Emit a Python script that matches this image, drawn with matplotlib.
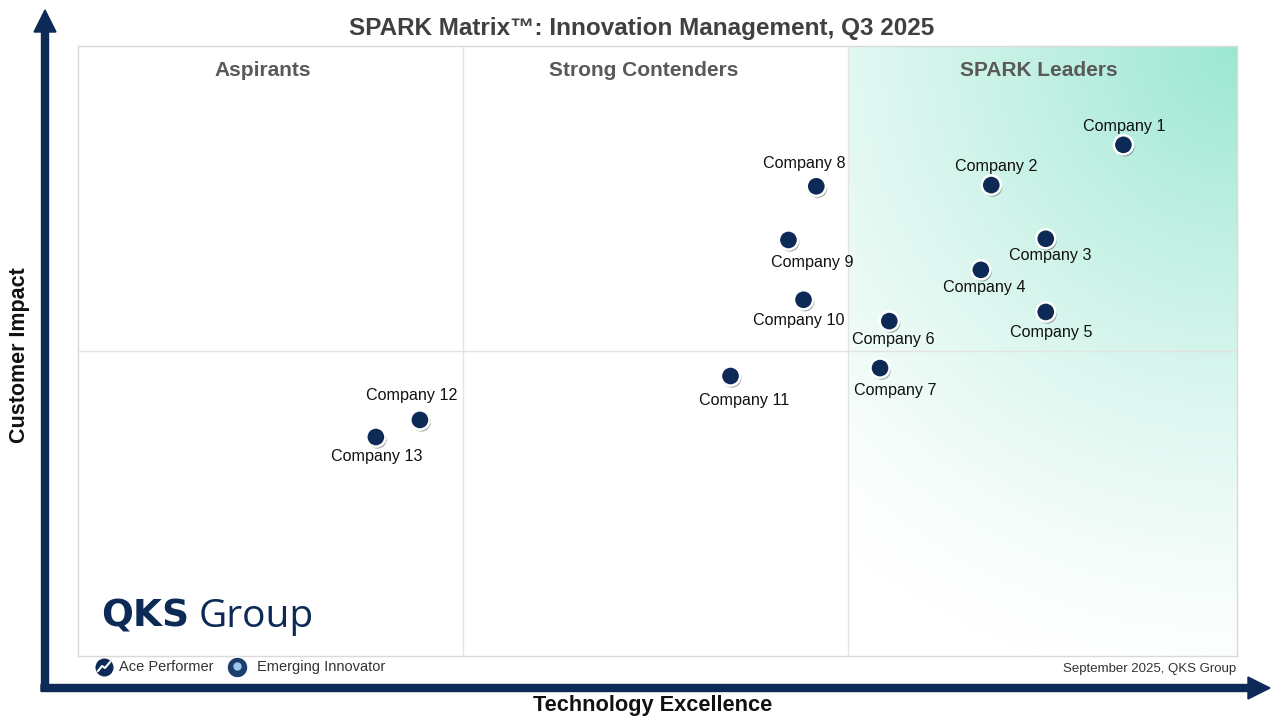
import numpy as np
import matplotlib.pyplot as plt
import matplotlib.patheffects as pe
from matplotlib.patches import FancyArrow

plt.rcParams['font.family'] = ['Liberation Sans', 'DejaVu Sans']

# Data
companies = ['Company 1', 'Company 2', 'Company 3', 'Company 4', 'Company 5',
             'Company 6', 'Company 7', 'Company 8', 'Company 9', 'Company 10',
             'Company 11', 'Company 12', 'Company 13']
tech_excellence = [90.2, 78.8, 83.5, 77.9, 83.5, 70.0, 69.2, 63.7, 61.3, 62.6, 56.3, 29.5, 25.7]
customer_impact = [83.8, 77.2, 68.4, 63.3, 56.4, 54.9, 47.2, 77.0, 68.2, 58.4, 45.9, 38.7, 35.9]
# label offsets in pixels (dx, dy)
label_offsets = [(1, 18), (5, 19), (4, -17), (3, -18), (5, -21), (4, -18), (15, -22),
                 (-12, 23), (24, -23), (-5, -21), (14, -24), (-8, 24), (1, -19)]
quadrants = ['Aspirants', 'Strong Contenders', 'SPARK Leaders']

navy = '#0c2a55'
W, H = 1280, 720
fig = plt.figure(figsize=(12.8, 7.2), dpi=100)

ax = fig.add_axes([78 / W, 1 - 656 / H, 1159 / W, 610 / H])
ax.set_xlim(0, 100)
ax.set_ylim(0, 100)
ax.set_xticks([])
ax.set_yticks([])
for s in ax.spines.values():
    s.set_color('#d9d9d9')
    s.set_linewidth(1)

# leaders gradient
x0 = 66.4
gx = np.linspace(0, 1, 200)
gy = np.linspace(0, 1, 300)
GX, GY = np.meshgrid(gx, gy)
d = np.sqrt(((1 - GX) * 0.65) ** 2 + ((1 - GY) * 1.0) ** 2)
t = np.clip(1 - d / 1.05, 0, 1) ** 1.3
c0 = np.array([1.0, 1.0, 1.0])
c1 = np.array([155, 231, 210]) / 255
img = c0 + (c1 - c0) * t[..., None]
ax.imshow(img, extent=[x0, 100, 0, 100], origin='lower', aspect='auto', zorder=0)

# quadrant dividers
ax.axvline(33.2, color='#e3e3e3', lw=1, zorder=1)
ax.axvline(x0, color='#e3e3e3', lw=1, zorder=1)
ax.axhline(50, color='#e3e3e3', lw=1, zorder=1)

for i, q in enumerate(quadrants):
    cx = [15.9, 48.8, 82.9][i]
    ax.text(cx, 96.0, q, ha='center', va='center', fontsize=15, fontweight='bold',
            color='#595959', zorder=3)

shadow = [pe.SimplePatchShadow(offset=(1, -1.5), alpha=0.35), pe.Normal()]
ax.scatter(tech_excellence, customer_impact, s=190, color=navy, edgecolor='white',
           linewidth=1.8, zorder=5, path_effects=shadow)
for name, x, y, off in zip(companies, tech_excellence, customer_impact, label_offsets):
    ax.annotate(name, (x, y), xytext=off, textcoords='offset pixels', ha='center',
                va='center', fontsize=11.6, color='#111111', zorder=6)

# title
fig.text(642 / W, 1 - 28 / H, 'SPARK Matrix\u2122: Innovation Management, Q3 2025',
         ha='center', va='center', fontsize=17.5, fontweight='bold', color='#404040')

# axis arrows
fig.patches.append(FancyArrow(
    45 / W, 1 - 690 / H, 0, (690 - 10) / H, width=7 / W, head_width=22 / W,
    head_length=22 / H, length_includes_head=True, color=navy, transform=fig.transFigure))
fig.patches.append(FancyArrow(
    41 / W, 1 - 688 / H, (1270 - 41) / W, 0, width=7 / H, head_width=22 / H,
    head_length=22 / W, length_includes_head=True, color=navy, transform=fig.transFigure))

fig.text(653 / W, 1 - 705 / H, 'Technology Excellence', ha='center', va='center',
         fontsize=15.7, fontweight='bold', color='#111111')
fig.text(20 / W, 1 - 355 / H, 'Customer Impact', ha='center', va='center',
         rotation=90, fontsize=15.5, fontweight='bold', color='#111111')

# logo
fig.text(101 / W, 1 - 617 / H, 'QKS', ha='left', va='center', fontsize=27,
         fontweight='bold', color=navy, family=['DejaVu Sans'])
fig.text(199 / W, 1 - 617 / H, 'Group', ha='left', va='center', fontsize=28,
         color=navy, family=['Open Sans', 'DejaVu Sans'])

# legend strip
fig.lines.append(plt.Line2D([104 / W], [1 - 667 / H], marker='o', ms=14, color=navy,
                            mec='white', mew=1, transform=fig.transFigure))
fig.lines.append(plt.Line2D([98 / W, 102 / W, 105 / W, 110 / W],
                            [1 - 671 / H, 1 - 666 / H, 1 - 668 / H, 1 - 662 / H],
                            color='white', lw=1.5, transform=fig.transFigure))
fig.text(119 / W, 1 - 667 / H, 'Ace Performer', ha='left', va='center', fontsize=10.5,
         color='#333333')
fig.lines.append(plt.Line2D([237 / W], [1 - 667 / H], marker='o', ms=15, color='#1d3f6e',
                            mec='white', mew=1, transform=fig.transFigure))
fig.lines.append(plt.Line2D([237 / W], [1 - 666 / H], marker='o', ms=6, color='#9cc8ef',
                            mec='none', transform=fig.transFigure))
fig.text(257 / W, 1 - 667 / H, 'Emerging Innovator', ha='left', va='center', fontsize=10.5,
         color='#333333')
fig.text(1236 / W, 1 - 669 / H, 'September 2025, QKS Group', ha='right', va='center',
         fontsize=9.5, color='#333333')

fig.savefig('out.png', dpi=100)
